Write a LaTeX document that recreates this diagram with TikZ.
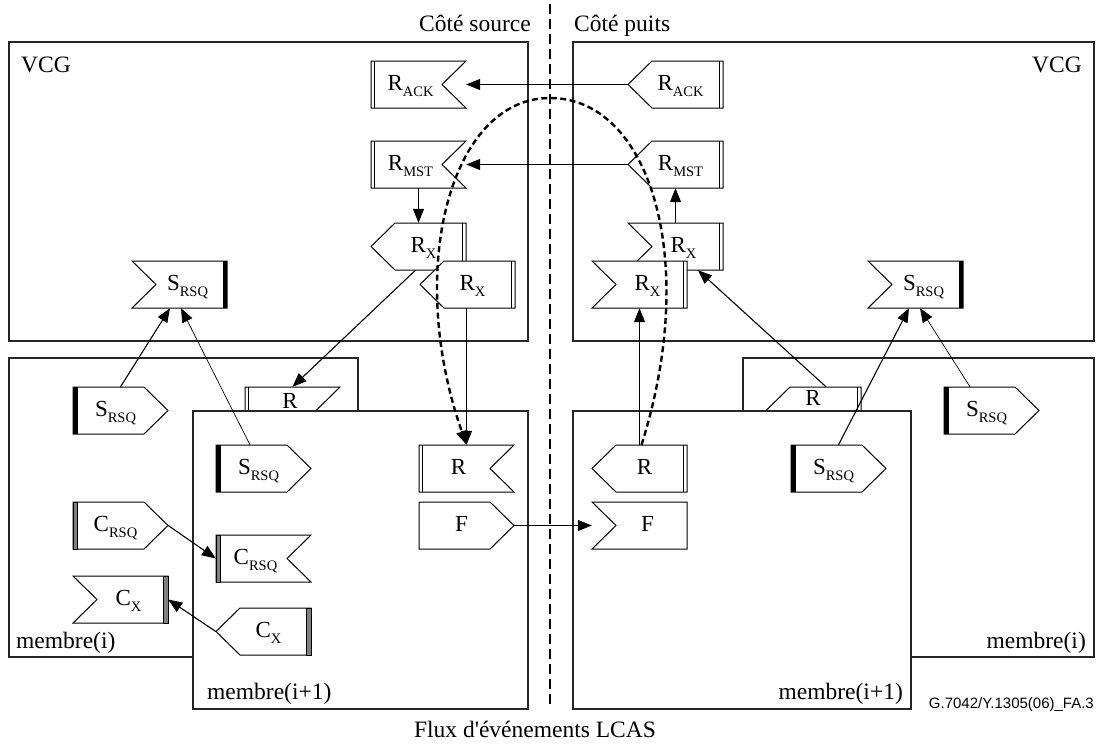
\documentclass[tikz,border=0pt]{standalone}
\usepackage{fontspec}
\setmainfont{Liberation Serif}
\newfontfamily\footfont{Liberation Sans}
\usetikzlibrary{arrows.meta,calc}
\definecolor{barcol}{RGB}{128,128,128}
\tikzset{
  panel/.style={draw=black!85, line width=1.3pt},
  panelw/.style={panel, fill=white},
  shapeline/.style={draw=black, line width=1pt, fill=white, line join=miter},
  shapeedge/.style={draw=black, line width=0.9pt},
  hitbox/.style={draw=none, inner sep=0pt, minimum width=95pt, minimum height=47pt},
  tagtext/.style={anchor=base, inner sep=0pt, font=\fontsize{23}{26}\selectfont},
  conn/.style={line width=1.1pt, -{Triangle[length=14pt,width=11pt]}},
  thinconn/.style={conn, line width=0.7pt},
  lbl/.style={inner sep=0pt, font=\fontsize{23.5}{26}\selectfont},
  flowline/.style={line width=2pt, dash pattern=on 10pt off 5pt},
  loopline/.style={line width=2.4pt, dash pattern=on 6pt off 3.5pt, -{Triangle[length=14pt,width=11pt]}},
}
\newcommand\lowsub[1]{\raisebox{-5.5pt}{\fontsize{14.5}{15}\selectfont #1}}
% corner offset, middle offset, text offset per side type
\def\tgCpoint{24}\def\tgCnotch{0}\def\tgCdouble{0}\def\tgCblack{0}\def\tgCgray{0}\def\tgCplain{0}
\def\tgMpoint{0}\def\tgMnotch{24}\def\tgMdouble{0}\def\tgMblack{0}\def\tgMgray{0}\def\tgMplain{0}
\def\tgTpoint{5}\def\tgTnotch{8}\def\tgTdouble{0}\def\tgTblack{0}\def\tgTgray{0}\def\tgTplain{0}
\newcommand\tgXLdouble[2]{\draw[shapeedge] (#1+3.5,#2) -- (#1+3.5,#2+47);}
\newcommand\tgXRdouble[2]{\draw[shapeedge] (#1+91.5,#2) -- (#1+91.5,#2+47);}
\newcommand\tgXLblack[2]{\fill[black] (#1,#2) rectangle (#1+4.5,#2+47);}
\newcommand\tgXRblack[2]{\fill[black] (#1+90.5,#2) rectangle (#1+95,#2+47);}
\newcommand\tgXLgray[2]{\filldraw[fill=barcol,draw=black,line width=0.5pt] (#1,#2) rectangle (#1+4.5,#2+47);}
\newcommand\tgXRgray[2]{\filldraw[fill=barcol,draw=black,line width=0.5pt] (#1+90.5,#2) rectangle (#1+95,#2+47);}
\newcommand\tgXLpoint[2]{}\newcommand\tgXRpoint[2]{}
\newcommand\tgXLnotch[2]{}\newcommand\tgXRnotch[2]{}
\newcommand\tgXLplain[2]{}\newcommand\tgXRplain[2]{}
\newcommand\tagshape[7][]{%
  \pgfmathsetmacro\tgA{#3+\csname tgC#5\endcsname}%
  \pgfmathsetmacro\tgB{#3+95-\csname tgC#6\endcsname}%
  \pgfmathsetmacro\tgR{#3+95-\csname tgM#6\endcsname}%
  \pgfmathsetmacro\tgL{#3+\csname tgM#5\endcsname}%
  \pgfmathsetmacro\tgM{#4+23.5}%
  \pgfmathsetmacro\tgD{#4+47}%
  \pgfmathsetmacro\tgT{#3+47.5+\csname tgT#5\endcsname-\csname tgT#6\endcsname}%
  \pgfmathsetmacro\tgY{#4+29.5}%
  \node[hitbox] (#2) at (#3+47.5,\tgM) {};
  \filldraw[shapeline] (\tgA,#4) -- (\tgB,#4) -- (\tgR,\tgM) -- (\tgB,\tgD) -- (\tgA,\tgD) -- (\tgL,\tgM) -- cycle;
  \csname tgXL#5\endcsname{#3}{#4}%
  \csname tgXR#6\endcsname{#3}{#4}%
  \node[tagtext,#1] (#2-t) at (\tgT,\tgY) {#7};
}
\begin{document}
\begin{tikzpicture}[x=1pt,y=-1pt]
\useasboundingbox (0,0) rectangle (1097,744);
% VCG panels
\draw[panel] (9,42) rectangle (528,341);
\draw[panel] (573,42) rectangle (1094,341);
% VCG shapes, source side
\tagshape{sRACK}{371}{61}{double}{notch}{R\lowsub{ACK}}
\tagshape{sRMST}{371}{141}{double}{notch}{R\lowsub{MST}}
\tagshape{sRX1}{371}{223}{point}{double}{R\lowsub{X}}
\tagshape{sRX2}{420}{261}{point}{double}{R\lowsub{X}}
\tagshape{sSv}{132}{261}{notch}{black}{S\lowsub{RSQ}}
% VCG shapes, sink side
\tagshape{kRACK}{628}{61}{point}{double}{R\lowsub{ACK}}
\tagshape{kRMST}{628}{141}{point}{double}{R\lowsub{MST}}
\tagshape{kRX1}{628}{223}{notch}{double}{R\lowsub{X}}
\tagshape{kRX2}{592}{261}{notch}{double}{R\lowsub{X}}
\tagshape{kSv}{868}{261}{notch}{black}{S\lowsub{RSQ}}
% membre(i) panels
\draw[panelw] (9,358) rectangle (358,657);
\draw[panelw] (743,358) rectangle (1094,657);
\tagshape[xshift=5.5pt,yshift=8.5pt]{mR}{245}{387}{double}{notch}{R}
\tagshape{mS}{73}{387}{black}{point}{S\lowsub{RSQ}}
\tagshape{mC}{73}{502}{gray}{point}{C\lowsub{RSQ}}
\tagshape{mCX}{73}{576}{notch}{gray}{C\lowsub{X}}
\tagshape[xshift=-5.5pt,yshift=11pt]{rmR}{766}{387}{point}{double}{R}
\tagshape{rmS}{944}{387}{black}{point}{S\lowsub{RSQ}}
% membre(i+1) panels
\draw[panelw] (193,411) rectangle (528,709);
\draw[panelw] (573,411) rectangle (911,709);
\tagshape{nS}{216}{445}{black}{point}{S\lowsub{RSQ}}
\tagshape{nR}{419}{445}{double}{notch}{R}
\tagshape{nF}{419}{502}{plain}{point}{F}
\tagshape{nC}{216}{535}{gray}{notch}{C\lowsub{RSQ}}
\tagshape{nCX}{216}{608}{point}{gray}{C\lowsub{X}}
\tagshape{rnR}{592}{445}{point}{double}{R}
\tagshape{rnF}{592}{502}{notch}{plain}{F}
\tagshape{rnS}{791}{445}{black}{point}{S\lowsub{RSQ}}
% labels
\node[lbl, anchor=base east] (tsrc) at (531,31) {Côté source};
\node[lbl, anchor=base west] (tsnk) at (574,31) {Côté puits};
\node[lbl, anchor=base west] (tvcgL) at (21,72) {VCG};
\node[lbl, anchor=base east] (tvcgR) at (1082,72) {VCG};
\node[lbl, anchor=base west] (tmiL) at (16,648) {membre(i)};
\node[lbl, anchor=base east] (tmiR) at (1086,648) {membre(i)};
\node[lbl, anchor=base west] (tmjL) at (207,699) {membre(i+1)};
\node[lbl, anchor=base east] (tmjR) at (903,699) {membre(i+1)};
\node[lbl, anchor=base] (tflux) at (535,737) {Flux d\textquotesingle événements LCAS};
\node[inner sep=0pt, anchor=base east, font=\footfont\fontsize{15}{17}\selectfont] (tref) at (1094,708) {G.7042/Y.1305(06)\_FA.3};
% divider
\coordinate (dtop) at (550,4);
\coordinate (dbot) at (550,707);
\draw[flowline] (dtop) -- (dbot);
% connectors
\draw[conn] (kRACK.west) -- (sRACK.east);
\draw[conn] (kRMST.west) -- (sRMST.east);
\draw[conn] (sRMST.south) -- (sRX1.north);
\draw[conn] (kRX1.north) -- (kRMST.south);
\draw[conn] ($(sRX1.south)+(-3,0)$) -- (mR.north);
\draw[conn] (nR.north |- sRX2.south) -- (nR.north);
\draw[conn] (mS.north) -- ($(sSv.south)+(-9.5,0)$);
\draw[thinconn] ($(nS.north)+(-13.5,0)$) -- ($(sSv.south)+(1.5,0)$);
\draw[conn] (mC.east) -- (nC.west);
\draw[conn] (nCX.west) -- (mCX.east);
\draw[conn] (nF.east) -- (rnF.west);
\draw[conn] (rnR.north) -- (kRX2.south);
\draw[conn] ($(rmR.north)+(12.5,0)$) -- ($(kRX1.south)+(22.5,0)$);
\draw[conn] (rnS.north) -- ($(kSv.south)+(-6.5,0)$);
\draw[thinconn] ($(rmS.north)+(-21.5,0)$) -- ($(kSv.south)+(4.5,0)$);
% event loop
\draw[loopline] ($(rnR.north)+(2,0)$) .. controls (700,260) and (650,98) .. (550,98)
   .. controls (450,98) and (405,270) .. (nR.north);
\end{tikzpicture}
\end{document}
